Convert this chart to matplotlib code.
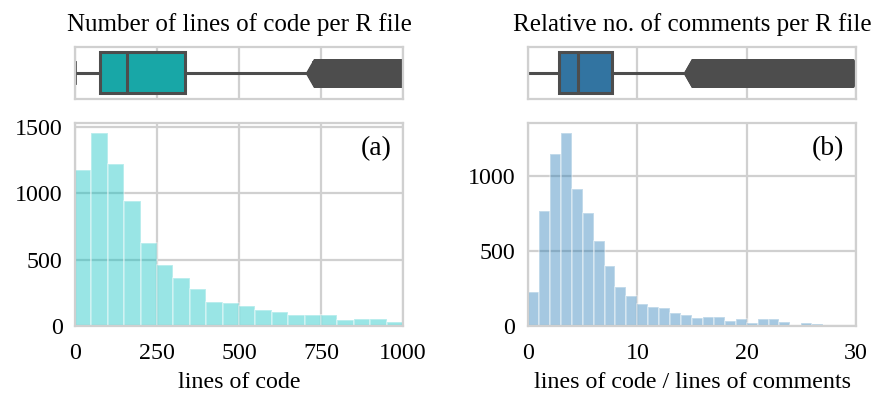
import matplotlib
matplotlib.use("Agg")
import matplotlib.pyplot as plt
import numpy as np

plt.rcParams['font.family'] = ['Liberation Serif', 'DejaVu Serif']

# ---------------- data ----------------
loc_bin_edges = [0, 50, 100, 150, 200, 250, 300, 350, 400, 450, 500,
                 550, 600, 650, 700, 750, 800, 850, 900, 950, 1000]
loc_counts = [1174, 1454, 1215, 937, 626, 462, 359, 280, 184, 174,
              152, 124, 109, 81, 81, 84, 43, 51, 51, 30]

ratio_bin_edges = list(range(0, 31))
ratio_counts = [224, 767, 1148, 1289, 911, 754, 570, 398, 260, 201,
                150, 130, 119, 89, 76, 56, 58, 60, 36, 47,
                22, 50, 50, 30, 7, 22, 14, 0, 0, 0]

# box-plot summaries (min whisker, Q1, median, Q3, max whisker, outlier range)
loc_box = dict(whislo=0, q1=75, med=160, q3=336, whishi=725)
loc_outlier_range = (730, 1000)
ratio_box = dict(whislo=0, q1=2.85, med=4.6, q3=7.7, whishi=14.9)
ratio_outlier_range = (15.0, 29.7)

titles = ["Number of lines of code per R file",
          "Relative no. of comments per R file"]
xlabels = ["lines of code", "lines of code / lines of comments"]
panel_tags = ["(a)", "(b)"]
loc_xticks = [0, 250, 500, 750, 1000]
ratio_xticks = [0, 10, 20, 30]
loc_yticks = [0, 500, 1000, 1500]
ratio_yticks = [0, 500, 1000]

# ---------------- style ----------------
box_colors = ["#18a7a7", "#3274a1"]
hist_colors = ["#00bfbf", "#1f77b4"]
line_gray = "#4d4d4d"
grid_gray = "#d0d0d0"
FS = 17.3

fig = plt.figure(figsize=(8.77, 3.97), dpi=100)

lefts = [75 / 877, 528 / 877]
width = 328 / 877
hist_bottom, hist_height = 71 / 397, 203 / 397
box_bottom, box_height = 298.5 / 397, 51.8 / 397

panels = [
    (loc_bin_edges, loc_counts, loc_box, loc_outlier_range, loc_xticks, loc_yticks, (0, 1000), True),
    (ratio_bin_edges, ratio_counts, ratio_box, ratio_outlier_range, ratio_xticks, ratio_yticks, (0, 30), False),
]

for i, (edges, counts, box, orange, xt, yt, xlim, caps) in enumerate(panels):
    axb = fig.add_axes([lefts[i], box_bottom, width, box_height])
    axh = fig.add_axes([lefts[i], hist_bottom, width, hist_height])

    for ax in (axb, axh):
        ax.set_facecolor("white")
        for s in ax.spines.values():
            s.set_color(grid_gray)
            s.set_linewidth(1.6)
        ax.grid(True, color=grid_gray, linewidth=1.6)
        ax.set_axisbelow(True)
        ax.tick_params(length=0, labelsize=FS, colors="black")
        ax.set_xlim(*xlim)
        ax.set_xticks(xt)

    # histogram
    edges_a = np.asarray(edges, dtype=float)
    axh.bar(edges_a[:-1], counts, width=np.diff(edges_a), align="edge",
            color=hist_colors[i], alpha=0.4, edgecolor="white", linewidth=1.2)
    axh.set_yticks(yt)
    axh.tick_params(axis="x", pad=12)
    axh.tick_params(axis="y", pad=9)
    axh.set_xlabel(xlabels[i], fontsize=FS, labelpad=6)
    axh.text(0.965, 0.935, panel_tags[i], transform=axh.transAxes,
             ha="right", va="top", fontsize=20)

    # box plot
    fliers = np.linspace(orange[0], orange[1], 600)
    stats = dict(box, fliers=fliers)
    axb.bxp([stats], positions=[0], widths=0.8, vert=False, patch_artist=True,
            showcaps=caps, capwidths=0.42,
            boxprops=dict(facecolor=box_colors[i], edgecolor=line_gray, linewidth=2.2),
            medianprops=dict(color=line_gray, linewidth=2.2),
            whiskerprops=dict(color=line_gray, linewidth=2.2),
            capprops=dict(color=line_gray, linewidth=2.0),
            flierprops=dict(marker="d", markersize=14, markerfacecolor=line_gray,
                            markeredgecolor=line_gray, linestyle="none"))
    axb.set_ylim(0.5, -0.5)
    axb.set_xlim(*xlim)
    axb.set_xticks(xt)
    axb.set_yticks([])
    axb.set_xticklabels([])
    axb.set_title(titles[i], fontsize=18, pad=11)

fig.savefig("out.png", dpi=100, facecolor="white")
